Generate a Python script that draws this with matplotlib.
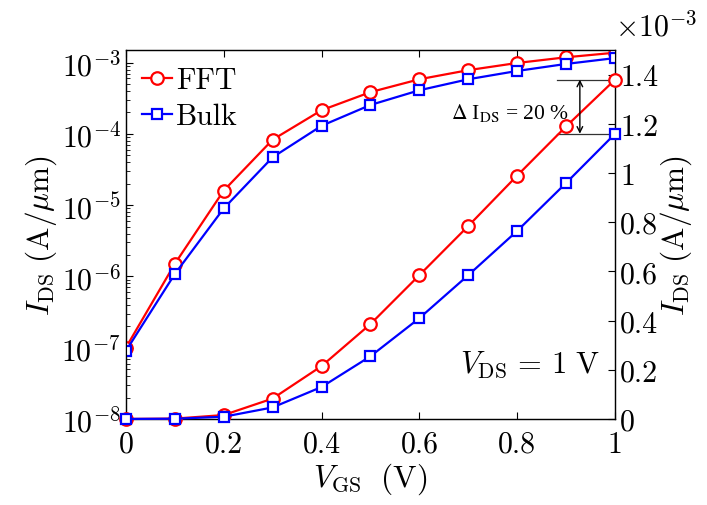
import matplotlib
matplotlib.use("Agg")
import matplotlib.pyplot as plt
from matplotlib.ticker import FixedLocator, FixedFormatter, LogLocator, NullFormatter

# data
vgs = [0.0, 0.1, 0.2, 0.3, 0.4, 0.5, 0.6, 0.7, 0.8, 0.9, 1.0]
ids_fft = [1.0e-7, 1.5e-6, 1.6e-5, 8.3e-5, 2.15e-4, 3.86e-4, 5.85e-4, 7.85e-4, 9.9e-4, 1.19e-3, 1.38e-3]
ids_bulk = [9.0e-8, 1.08e-6, 9.0e-6, 4.7e-5, 1.3e-4, 2.55e-4, 4.1e-4, 5.85e-4, 7.65e-4, 9.6e-4, 1.16e-3]

x_ticks = [0, 0.2, 0.4, 0.6, 0.8, 1.0]
x_labels = ["0", "0.2", "0.4", "0.6", "0.8", "1"]
log_ticks = [1e-8, 1e-7, 1e-6, 1e-5, 1e-4, 1e-3]
log_labels = [r"$10^{-8}$", r"$10^{-7}$", r"$10^{-6}$", r"$10^{-5}$", r"$10^{-4}$", r"$10^{-3}$"]
lin_ticks = [0, 0.2e-3, 0.4e-3, 0.6e-3, 0.8e-3, 1.0e-3, 1.2e-3, 1.4e-3]
lin_labels = ["0", "0.2", "0.4", "0.6", "0.8", "1", "1.2", "1.4"]

plt.rcParams["font.family"] = "cmr10"
plt.rcParams["mathtext.fontset"] = "cm"
plt.rcParams["axes.unicode_minus"] = False
plt.rcParams["xtick.direction"] = "in"
plt.rcParams["ytick.direction"] = "in"

fig = plt.figure(figsize=(7.07, 5.06), dpi=100)
ax = fig.add_axes([0.178, 0.170, 0.692, 0.729])
ax2 = ax.twinx()

red = "#ff0000"
blue = "#0000ff"
fs = 21.5

# log curves on left axis
ax.semilogy(vgs, ids_fft, "-o", color=red, lw=1.6, ms=9, mfc="white", mew=1.6, label="FFT", zorder=3)
ax.semilogy(vgs, ids_bulk, "-s", color=blue, lw=1.6, ms=7, mfc="white", mew=1.6, label="Bulk", zorder=3)

# linear curves on right axis
ax2.plot(vgs, ids_fft, "-o", color=red, lw=1.6, ms=9, mfc="white", mew=1.6, clip_on=False, zorder=3)
ax2.plot(vgs, ids_bulk, "-s", color=blue, lw=1.6, ms=7, mfc="white", mew=1.6, clip_on=False, zorder=3)

ax.set_xlim(0, 1)
ax.set_ylim(1e-8, 1.5e-3)
ax2.set_ylim(0, 1.5e-3)

ax.xaxis.set_major_locator(FixedLocator(x_ticks))
ax.xaxis.set_major_formatter(FixedFormatter(x_labels))
ax.yaxis.set_major_locator(FixedLocator(log_ticks))
ax.yaxis.set_major_formatter(FixedFormatter(log_labels))
ax.yaxis.set_minor_locator(LogLocator(base=10, subs=range(2, 10), numticks=20))
ax.yaxis.set_minor_formatter(NullFormatter())
ax2.yaxis.set_major_locator(FixedLocator(lin_ticks))
ax2.yaxis.set_major_formatter(FixedFormatter(lin_labels))

ax.tick_params(axis="x", which="both", top=True, labelsize=fs, length=5, pad=8)
ax.tick_params(axis="y", which="major", labelsize=fs, length=5)
ax.tick_params(axis="y", which="minor", length=3)
ax2.tick_params(axis="y", labelsize=fs, length=5)

for sp in ax.spines.values():
    sp.set_linewidth(1.0)
    sp.set_color("#262626")

ax.set_xlabel(r"$V_{\rm GS}\ \ ({\rm V})$", fontsize=22.5, labelpad=2)
ax.set_ylabel(r"$I_{\rm DS}\ ({\rm A}/\mu{\rm m})$", fontsize=22.5, labelpad=2)
ax2.set_ylabel(r"$I_{\rm DS}\ ({\rm A}/\mu{\rm m})$", fontsize=22.5, labelpad=0)

ax2.text(1.0, 1.025, r"$\times10^{-3}$", transform=ax2.transAxes, fontsize=fs, ha="left", va="bottom")

ax.legend(loc="upper left", frameon=False, fontsize=fs, handlelength=1.0, handletextpad=0.12,
          borderaxespad=0.15, labelspacing=0.3)

# delta annotation
ax2.plot([0.882, 1.0], [ids_fft[-1], ids_fft[-1]], color="#333333", lw=0.9)
ax2.plot([0.882, 1.0], [ids_bulk[-1], ids_bulk[-1]], color="#333333", lw=0.9)
ax2.annotate("", xy=(0.928, ids_fft[-1]), xytext=(0.928, ids_bulk[-1]),
             arrowprops=dict(arrowstyle="<->", color="black", lw=1.0, shrinkA=0, shrinkB=0))
ax2.text(0.665, 1.25e-3, r"$\Delta$ I$_{\rm DS}$ = 20 %", fontsize=15.5, family="Liberation Serif",
         math_fontfamily="stix", ha="left", va="center")

ax.text(0.97, 0.15, r"$V_{\rm DS}\,=\,1\ {\rm V}$", transform=ax.transAxes, fontsize=22,
        ha="right", va="center")

fig.savefig("out.png", dpi=100)
